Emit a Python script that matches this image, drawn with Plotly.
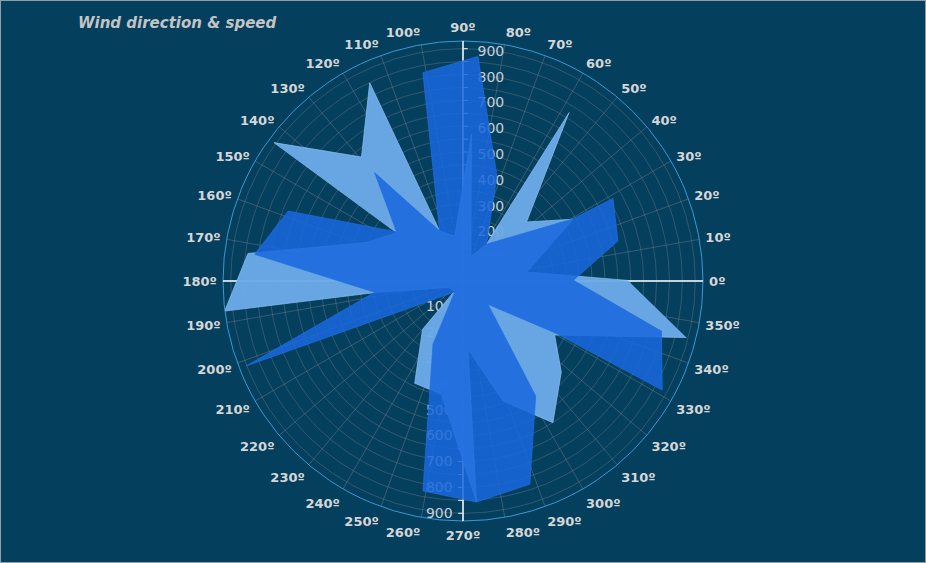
import plotly.graph_objects as go

# outline of the two wind series (direction in degrees, speed)
light_dir = [0.2, 8, 29.3, 42.9, 57.8, 57.5, 72, 86.7, 100.4, 115.0, 115.2, 129.3, 143.8, 144.0,
             158, 172.7, 187.2, 187.5, 205, 230, 230.2, 244.7, 259.2, 273.5, 274.2, 288.4,
             302.4, 317.2, 329.5, 345.8]
light_speed = [639, 250, 489, 336, 771, 169, 100, 569, 177, 214, 849, 621, 908, 319,
               400, 840, 931, 345, 60, 50, 245, 438, 447, 858, 265, 490,
               650, 519, 412, 893]

dark_dir = [0.5, 14.5, 28.8, 29.5, 57.5, 72.1, 86.2, 100.9, 115.0, 129.2, 143.5, 158.2, 172.7,
            187.3, 201.4, 233.0, 244.6, 259.2, 273.5, 288.2, 302.3, 317.0, 330.6, 331.3, 345.9]
dark_speed = [429, 620, 663, 488, 169, 428, 872, 822, 214, 542, 320, 730, 814,
              345, 902, 53, 271, 828, 858, 829, 527, 132, 408, 880, 793]

angle_ticks = list(range(0, 360, 10))
angle_labels = [str(a) + "\u00ba" for a in angle_ticks]
speed_ticks = list(range(50, 901, 50))
speed_labels = [str(v) if v % 100 == 0 else "" for v in speed_ticks]

RMAX = 930
BG = "#053f5e"
dom = dict(x=[223 / 926, 703 / 926], y=[42 / 563, 522 / 563])

fig = go.Figure()
# empty traces so the axis-only polar subplots get drawn
for sp in ["polar", "polar2", "polar3", "polar4"]:
    fig.add_trace(go.Scatterpolar(r=[], theta=[], mode="lines", subplot=sp, hoverinfo="skip"))

fig.add_trace(go.Scatterpolar(r=light_speed, theta=light_dir, mode="lines", fill="toself",
                              fillcolor="rgba(108,170,232,0.96)",
                              line=dict(color="rgba(140,192,242,0.9)", width=0.8),
                              subplot="polar5", hoverinfo="skip"))
fig.add_trace(go.Scatterpolar(r=dark_speed, theta=dark_dir, mode="lines", fill="toself",
                              fillcolor="rgba(24,104,222,0.86)",
                              line=dict(color="rgba(30,112,228,0.9)", width=0.8),
                              subplot="polar5", hoverinfo="skip"))

hidden_ang = dict(direction="counterclockwise", rotation=0, showgrid=False, showline=False,
                  showticklabels=False, ticks="")


def line_axis(angle, labels):
    return dict(
        domain=dom, bgcolor="rgba(0,0,0,0)",
        angularaxis=hidden_ang,
        radialaxis=dict(range=[0, RMAX], angle=angle, showgrid=False, showline=True,
                        linecolor="white", linewidth=1.5,
                        tickvals=speed_ticks, ticktext=speed_labels,
                        showticklabels=labels, ticks="outside" if labels else "",
                        ticklen=4, tickcolor="white", side="clockwise", tickangle=-90,
                        tickfont=dict(family="DejaVu Sans", size=14, color="#c8d0d8")))


fig.update_layout(
    width=926, height=563, autosize=False,
    margin=dict(l=0, r=0, t=0, b=0),
    paper_bgcolor=BG,
    showlegend=False,
    title=dict(text="Wind direction & speed", x=78 / 926, xanchor="left",
               y=1 - 23 / 563, yanchor="middle",
               font=dict(family="DejaVu Sans", size=15, color="#c4c4c4",
                         weight="bold", style="italic")),
    polar=dict(
        domain=dom, bgcolor=BG,
        angularaxis=dict(direction="counterclockwise", rotation=0,
                         tickvals=angle_ticks, ticktext=angle_labels,
                         showline=True, linecolor="#3b98d6", linewidth=1,
                         gridcolor="rgba(150,150,150,0.35)", gridwidth=1,
                         ticks="outside", ticklen=3, tickcolor="rgba(0,0,0,0)",
                         tickfont=dict(family="DejaVu Sans", size=13, color="#d6d6d6",
                                       weight="bold")),
        radialaxis=dict(range=[0, RMAX], angle=90, tickvals=speed_ticks, ticktext=speed_labels,
                        showline=True, linecolor="white", linewidth=1.5,
                        gridcolor="rgba(150,150,150,0.3)", gridwidth=1,
                        ticks="outside", ticklen=4, tickcolor="white", side="clockwise",
                        tickfont=dict(family="DejaVu Sans", size=14, color="#c8d0d8"))),
    polar2=line_axis(270, True),
    polar3=line_axis(0, False),
    polar4=line_axis(180, False),
    polar5=dict(domain=dom, bgcolor="rgba(0,0,0,0)", angularaxis=hidden_ang,
                radialaxis=dict(range=[0, RMAX], visible=False)),
    shapes=[dict(type="rect", xref="paper", yref="paper", x0=0, y0=0, x1=1, y1=1,
                 line=dict(color="rgba(200,200,200,0.7)", width=2))],
)

fig.write_html("out.html", config={"displayModeBar": False},
               post_script="document.body.style.margin='0';")
